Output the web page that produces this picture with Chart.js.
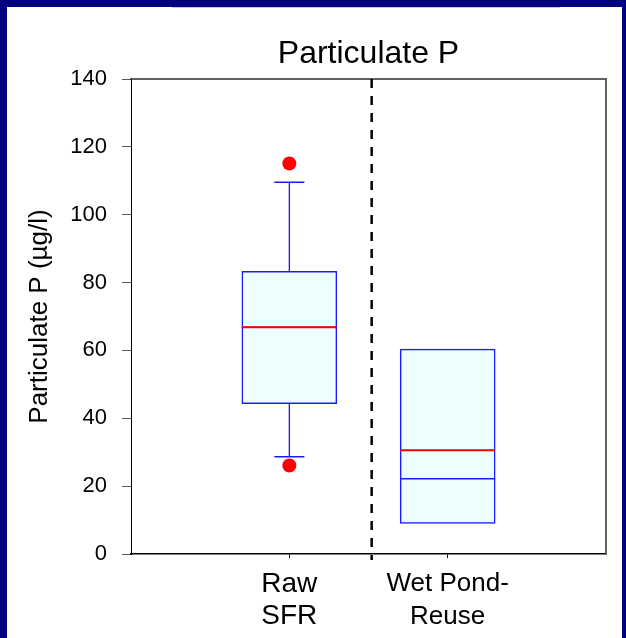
<!DOCTYPE html>
<html>
<head>
<meta charset="utf-8">
<script src="https://cdn.jsdelivr.net/npm/chart.js@4.4.1/dist/chart.umd.min.js"></script>
<style>
  html, body { margin: 0; padding: 0; background: #000080; overflow: hidden; }
  canvas { display: block; }
</style>
</head>
<body>
<canvas id="c" width="626" height="638"></canvas>
<script>
// ---- data ----
const categories = [['Raw', 'SFR'], ['Wet Pond-', 'Reuse']];
const positions = [1, 2];
const q1 = [44.3, 9.0];
const q3 = [83.3, 60.4];
const median = [66.8, 22.2];
const mean = [66.8, 30.6];
const whiskerLow = [28.7, null];
const whiskerHigh = [109.6, null];
const outliers = [[115.1, 26.1], []];
const yMin = 0, yMax = 140, yStep = 20;
const dividerX = 1.52;

// ---- build datasets ----
const boxHalf = 0.3, capHalf = 0.095;
const boxData = positions.map((p, i) => ({ x: p, y: [q1[i], q3[i]] }));
const whiskerData = [], capData = [], medianData = [], meanData = [], outlierData = [];
positions.forEach((p, i) => {
  if (whiskerHigh[i] != null) {
    whiskerData.push({ x: p, y: q3[i] }, { x: p, y: whiskerHigh[i] }, { x: p, y: null });
    capData.push({ x: p - capHalf, y: whiskerHigh[i] }, { x: p + capHalf, y: whiskerHigh[i] }, { x: p, y: null });
  }
  if (whiskerLow[i] != null) {
    whiskerData.push({ x: p, y: q1[i] }, { x: p, y: whiskerLow[i] }, { x: p, y: null });
    capData.push({ x: p - capHalf, y: whiskerLow[i] }, { x: p + capHalf, y: whiskerLow[i] }, { x: p, y: null });
  }
  medianData.push({ x: p - boxHalf, y: median[i] }, { x: p + boxHalf, y: median[i] }, { x: p, y: null });
  meanData.push({ x: p - boxHalf, y: mean[i] }, { x: p + boxHalf, y: mean[i] }, { x: p, y: null });
  outliers[i].forEach(v => outlierData.push({ x: p, y: v }));
});
const dividerData = [{ x: dividerX, y: yMax }, { x: dividerX, y: -1.8 }];

const FONT = "'Liberation Sans', Arial, sans-serif";

const bgPlugin = {
  id: 'bg',
  beforeDraw(chart) {
    const ctx = chart.ctx;
    ctx.save();
    ctx.fillStyle = '#000080';
    ctx.fillRect(0, 0, chart.width, chart.height);
    ctx.fillStyle = '#ffffff';
    ctx.fillRect(7, 7, chart.width - 11, chart.height - 7);
    ctx.strokeStyle = '#c8c8d8';
    ctx.lineWidth = 1;
    ctx.beginPath();
    ctx.moveTo(172, 7.5);
    ctx.lineTo(560, 7.5);
    ctx.stroke();
    ctx.restore();
  }
};

new Chart(document.getElementById('c'), {
  type: 'bar',
  data: {
    datasets: [
      {
        type: 'scatter', data: outlierData, order: 1,
        pointRadius: 7, pointHoverRadius: 7, backgroundColor: '#ff0000', borderWidth: 0
      },
      {
        type: 'line', data: meanData, order: 2, borderColor: '#ff0000', borderWidth: 2,
        pointRadius: 0, spanGaps: false, fill: false
      },
      {
        type: 'line', data: medianData, order: 3, borderColor: '#1a1aff', borderWidth: 1.5,
        pointRadius: 0, spanGaps: false, fill: false
      },
      {
        type: 'line', data: dividerData, order: 4, borderColor: '#000000', borderWidth: 2.5,
        borderDash: [9, 8], pointRadius: 0, fill: false, clip: false
      },
      {
        type: 'line', data: whiskerData, order: 5, borderColor: '#1a1aff', borderWidth: 1.3,
        pointRadius: 0, spanGaps: false, fill: false
      },
      {
        type: 'line', data: capData, order: 5, borderColor: '#1a1aff', borderWidth: 1.5,
        pointRadius: 0, spanGaps: false, fill: false
      },
      {
        type: 'bar', data: boxData, order: 10,
        backgroundColor: '#eeffff', borderColor: '#1a1aff', borderWidth: 1.5,
        borderSkipped: false, barThickness: 95
      }
    ]
  },
  options: {
    responsive: false,
    animation: false,
    devicePixelRatio: 1,
    layout: { padding: 0 },
    plugins: { legend: { display: false }, tooltip: { enabled: false }, title: { display: false } },
    scales: {
      x: {
        type: 'linear', position: 'bottom', min: 0, max: 3, offset: false,
        grid: { display: true, drawOnChartArea: false, offset: false, tickLength: 4, color: '#000', lineWidth: 1 },
        border: { display: true, color: '#000000', width: 1.5 },
        afterBuildTicks: (s) => { s.ticks = positions.map(v => ({ value: v })); },
        afterFit: (s) => { s.height = 84; },
        ticks: {
          padding: 10, color: '#000000', maxRotation: 0, autoSkip: false,
          callback: (v) => { const i = positions.indexOf(v); return i >= 0 ? categories[i] : ''; },
          font: (ctx) => (ctx.index === 0
            ? { family: FONT, size: 28, lineHeight: 1.14 }
            : { family: FONT, size: 26, lineHeight: 1.25 })
        }
      },
      xTop: {
        type: 'linear', position: 'top', min: 0, max: 3, offset: false,
        grid: { display: false, drawTicks: false },
        border: { display: true, color: '#606060', width: 2 },
        ticks: { display: false },
        afterFit: (s) => { s.height = 79; },
        title: {
          display: true, text: 'Particulate P', color: '#000000',
          font: { family: FONT, size: 32 }, padding: { top: 35, bottom: 0 }
        }
      },
      y: {
        type: 'linear', position: 'left', min: yMin, max: yMax,
        grid: { display: true, drawOnChartArea: false, tickLength: 9, color: '#555555', lineWidth: 1 },
        border: { display: true, color: '#000000', width: 1 },
        afterFit: (s) => { s.width = 131; },
        ticks: { stepSize: yStep, padding: 15, color: '#000000', font: { family: FONT, size: 22 } },
        title: {
          display: true, text: 'Particulate P (µg/l)', color: '#000000',
          font: { family: FONT, size: 26 }, padding: { top: 24, bottom: 0 }
        }
      },
      yRight: {
        type: 'linear', position: 'right', min: yMin, max: yMax,
        grid: { display: false, drawTicks: false },
        border: { display: true, color: '#606060', width: 2 },
        ticks: { display: false },
        afterFit: (s) => { s.width = 20; }
      }
    }
  },
  plugins: [bgPlugin]
});
</script>
</body>
</html>
